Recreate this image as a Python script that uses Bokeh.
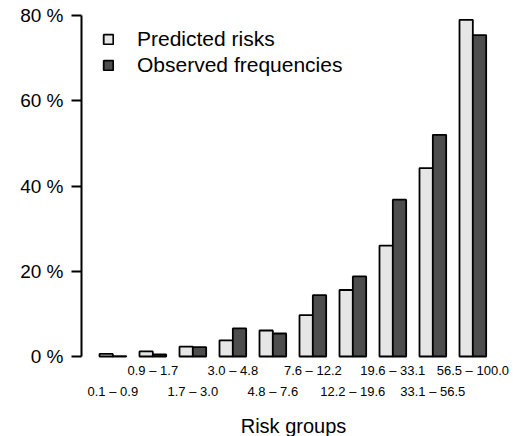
from bokeh.plotting import figure
from bokeh.models import (Range1d, LinearAxis, FixedTicker, Legend, LegendItem,
                          ColumnDataSource)
from bokeh.embed import file_html
from bokeh.resources import INLINE

# ---- data ----
groups = ["0.1 – 0.9", "0.9 – 1.7", "1.7 – 3.0", "3.0 – 4.8", "4.8 – 7.6",
          "7.6 – 12.2", "12.2 – 19.6", "19.6 – 33.1", "33.1 – 56.5", "56.5 – 100.0"]
predicted = [0.6, 1.2, 2.3, 3.8, 6.1, 9.7, 15.6, 26.0, 44.2, 79.0]
observed = [0.1, 0.5, 2.2, 6.6, 5.4, 14.4, 18.8, 36.8, 52.0, 75.4]
y_ticks = [0, 20, 40, 60, 80]
y_tick_labels = ["0 %", "20 %", "40 %", "60 %", "80 %"]
series_names = ["Predicted risks", "Observed frequencies"]

FONT = "Liberation Sans"
LIGHT = "#e6e6e6"
DARK = "#4d4d4d"

# R-barplot style positions: bar width 1, one bar of space before each group
n = len(groups)
centers = [2 + 3 * i for i in range(n)]
x_pred = [c - 0.5 for c in centers]
x_obs = [c + 0.5 for c in centers]

p = figure(frame_width=424, frame_height=356,
           min_border_left=81, min_border_right=8, min_border_top=5, min_border_bottom=75,
           x_range=Range1d(-0.35, 31.45), y_range=Range1d(-1.17, 82.35),
           x_axis_location=None, y_axis_location=None,
           output_backend="svg", toolbar_location=None)
p.grid.visible = False
p.outline_line_color = None
p.background_fill_color = "white"
p.border_fill_color = "white"

src_p = ColumnDataSource(dict(x=x_pred, top=predicted))
src_o = ColumnDataSource(dict(x=x_obs, top=observed))
r1 = p.vbar(x="x", top="top", bottom=0, width=1, source=src_p,
            fill_color=LIGHT, line_color="black", line_width=1.8)
r2 = p.vbar(x="x", top="top", bottom=0, width=1, source=src_o,
            fill_color=DARK, line_color="black", line_width=1.8)

# y axis
yax = LinearAxis(ticker=FixedTicker(ticks=y_ticks),
                 major_label_overrides={t: l for t, l in zip(y_ticks, y_tick_labels)})
yax.bounds = (0, 80)
yax.axis_line_width = 2
yax.major_tick_line_width = 2
yax.major_tick_out = 10
yax.major_tick_in = 0
yax.minor_tick_out = 0
yax.minor_tick_in = 0
yax.major_label_standoff = 8
yax.major_label_text_font = FONT
yax.major_label_text_font_size = "19px"
yax.major_label_text_color = "black"
p.add_layout(yax, "left")

# x labels: two staggered rows
def make_xaxis(idx, standoff):
    ax = LinearAxis(ticker=FixedTicker(ticks=[centers[i] for i in idx]),
                    major_label_overrides={centers[i]: groups[i] for i in idx})
    ax.axis_line_color = None
    ax.major_tick_line_color = None
    ax.minor_tick_line_color = None
    ax.major_tick_out = 0
    ax.major_tick_in = 0
    ax.major_label_standoff = standoff
    ax.major_label_text_font = FONT
    ax.major_label_text_font_size = "13px"
    ax.major_label_text_color = "black"
    return ax

ax_top = make_xaxis(list(range(1, n, 2)), 1)
ax_bot = make_xaxis(list(range(0, n, 2)), 3)
ax_bot.axis_label = "Risk groups"
ax_bot.axis_label_text_font = FONT
ax_bot.axis_label_text_font_size = "20px"
ax_bot.axis_label_text_font_style = "normal"
ax_bot.axis_label_text_color = "black"
ax_bot.axis_label_standoff = 13
p.add_layout(ax_top, "below")
p.add_layout(ax_bot, "below")

legend = Legend(items=[LegendItem(label=series_names[0], renderers=[r1]),
                       LegendItem(label=series_names[1], renderers=[r2])],
                location="top_left", margin=21, padding=0, spacing=0,
                glyph_width=12, glyph_height=12, label_height=26,
                label_standoff=23, border_line_color=None,
                background_fill_alpha=0,
                label_text_font=FONT, label_text_font_size="21px",
                label_text_color="black")
p.add_layout(legend, "center")

open("out.html", "w").write(file_html(p, INLINE))
